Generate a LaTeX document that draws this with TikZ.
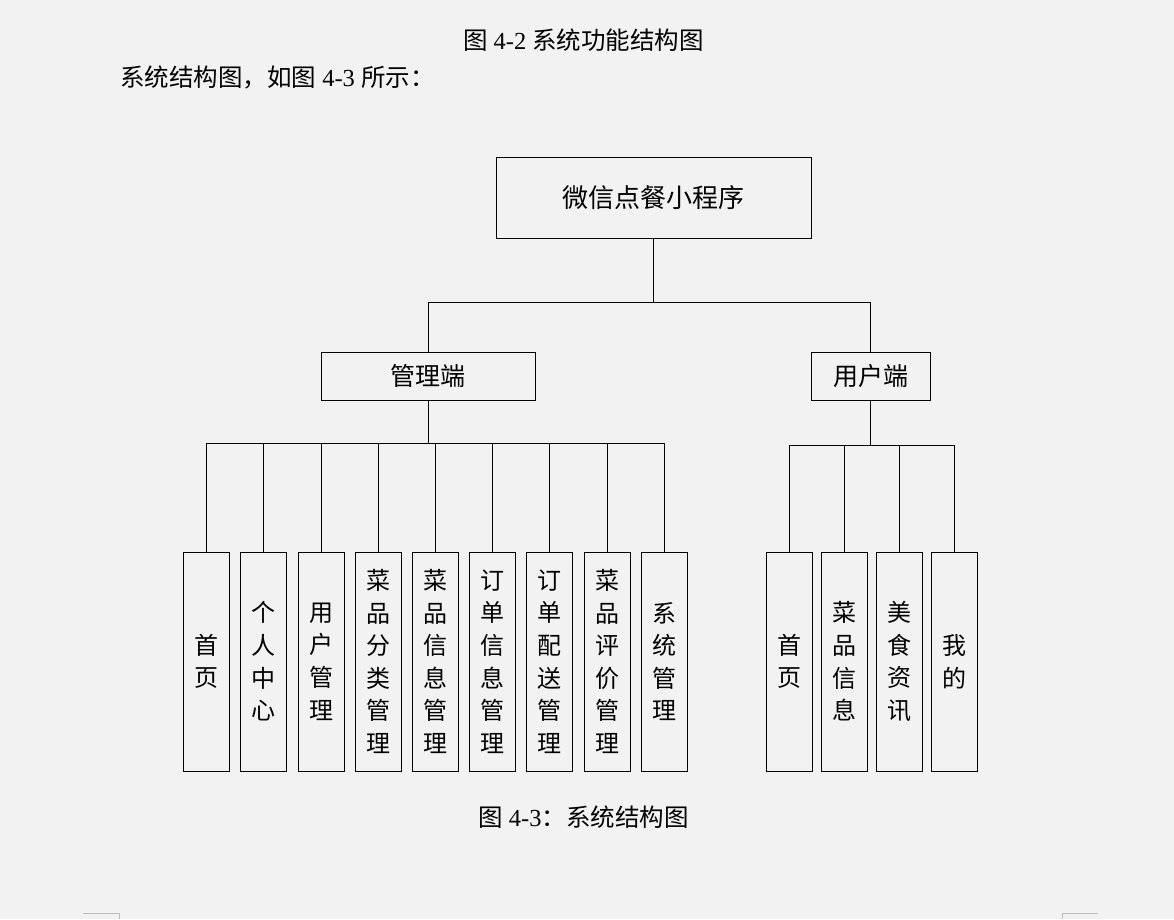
\documentclass[tikz,border=0pt]{standalone}
\usepackage{fontspec}
\setmainfont{Liberation Serif}
\newfontfamily\cjk{Noto Sans CJK SC}
\usepackage{xcolor}
\usetikzlibrary{positioning,calc}
\definecolor{pagebg}{HTML}{F2F2F2}
\definecolor{cropmark}{HTML}{BDBDBD}

\begin{document}
\begin{tikzpicture}[x=1pt,y=-1pt,
  box/.style={draw,line width=0.9pt,inner sep=0pt,align=center,font=\cjk\fontsize{25}{30}\selectfont},
  leaf/.style={box,minimum width=46pt,minimum height=219pt,font=\cjk\fontsize{24}{32.6}\selectfont},
  captext/.style={inner sep=0pt,font=\fontsize{24.5}{28}\selectfont},
  link/.style={line width=0.9pt}]
\fill[pagebg] (0,0) rectangle (1174,919);
\useasboundingbox (0,0) rectangle (1174,919);
% captions
\node[captext] (cap42) at (583.5,40) {{\cjk 图} 4-2 {\cjk 系统功能结构图}};
\node[captext,anchor=west] (intro) at (120,77) {{\cjk 系统结构图，如图} 4-3 {\cjk 所示：}};
\node[captext] (cap43) at (583.5,817) {{\cjk 图} 4-3{\cjk ：系统结构图}};
% tree
\node[box,minimum width=315pt,minimum height=81pt,font=\cjk\fontsize{26}{30}\selectfont] (root) at (653.5,197.5) {微信点餐小程序};
\node[box,minimum width=214pt,minimum height=48pt] (adm) at (428,376) {管理端};
\node[box,minimum width=119pt,minimum height=48pt] (usr) at (870.5,376) {用户端};
\node[leaf] (a1) at (206,661.5) {首\\页};
\node[leaf] (a2) at (263.5,661.5) {个\\人\\中\\心};
\node[leaf] (a3) at (321,661.5) {用\\户\\管\\理};
\node[leaf] (a4) at (378,661.5) {菜\\品\\分\\类\\管\\理};
\node[leaf] (a5) at (435,661.5) {菜\\品\\信\\息\\管\\理};
\node[leaf] (a6) at (492,661.5) {订\\单\\信\\息\\管\\理};
\node[leaf] (a7) at (549,661.5) {订\\单\\配\\送\\管\\理};
\node[leaf] (a8) at (607,661.5) {菜\\品\\评\\价\\管\\理};
\node[leaf] (a9) at (664,661.5) {系\\统\\管\\理};
\node[leaf] (u1) at (789.5,661.5) {首\\页};
\node[leaf] (u2) at (844.5,661.5) {菜\\品\\信\\息};
\node[leaf] (u3) at (899.5,661.5) {美\\食\\资\\讯};
\node[leaf] (u4) at (954.5,661.5) {我\\的};
\coordinate (bus0) at (653.5,302);
\coordinate (bus1) at (428,443);
\coordinate (bus2) at (870.5,445);
\draw[link] (root.south) -- (bus0);
\draw[link] (adm.north) -- (adm.north |- bus0) -- (usr.north |- bus0) -- (usr.north);
\draw[link] (adm.south) -- (bus1);
\draw[link] (a1.north |- bus1) -- (a9.north |- bus1);
\foreach \n in {a1,a2,a3,a4,a5,a6,a7,a8,a9}
  \draw[link] (\n.north) -- (\n.north |- bus1);
\draw[link] (usr.south) -- (bus2);
\draw[link] (u1.north |- bus2) -- (u4.north |- bus2);
\foreach \n in {u1,u2,u3,u4}
  \draw[link] (\n.north) -- (\n.north |- bus2);
% page corner marks
\draw[cropmark,line width=1pt] (83,913) -- (119,913) -- (119,919);
\draw[cropmark,line width=1pt] (1062,919) -- (1062,913) -- (1098,913);
\end{tikzpicture}
\end{document}
